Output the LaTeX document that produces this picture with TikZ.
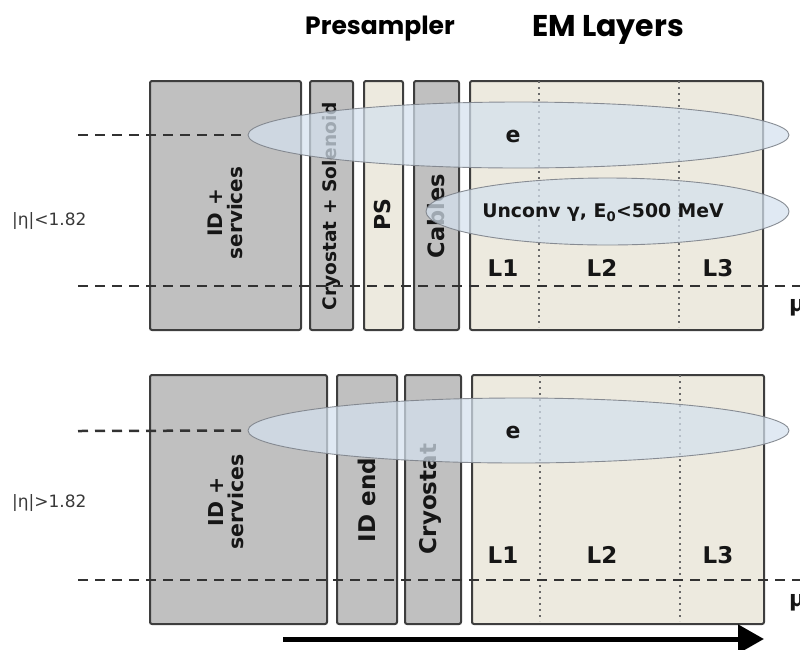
\documentclass[tikz,border=0pt]{standalone}
\usepackage{fontspec}
\setmainfont{DejaVu Sans}
\newfontfamily\headfont{Poppins}
\usetikzlibrary{shapes.geometric,arrows.meta}

\definecolor{boxgrey}{RGB}{192,192,192}
\definecolor{cream}{RGB}{237,234,223}
\definecolor{edgegrey}{RGB}{62,62,62}
\definecolor{showerblue}{RGB}{212,225,238}
\definecolor{showeredge}{RGB}{125,130,138}
\definecolor{dashgrey}{RGB}{50,50,50}
\definecolor{dotgrey}{RGB}{105,105,105}
\definecolor{inkblack}{RGB}{22,22,22}

\newcommand{\lblsize}[1]{\bfseries\fontsize{#1}{#1}\selectfont}

\begin{document}
\begin{tikzpicture}[x=1pt,y=-1pt,
  block/.style={draw=edgegrey, line width=2pt, rounded corners=2pt,
                inner sep=0pt, anchor=north west, minimum height=249pt},
  greyblock/.style={block, fill=boxgrey},
  layerblock/.style={block, fill=cream},
  vlabel/.style={rotate=90, text=inkblack, align=center, inner sep=0pt},
  hlabel/.style={font=\lblsize{23}, text=inkblack, inner sep=0pt},
  shower/.style={ellipse, draw=showeredge, line width=0.9pt, fill=showerblue,
                 fill opacity=0.72, draw opacity=0.9, inner sep=0pt},
  dashline/.style={draw=dashgrey, line width=2.5pt, dash pattern=on 10pt off 7pt},
  dotline/.style={draw=dotgrey, line width=1.6pt, dash pattern=on 1.6pt off 4.4pt},
  etalabel/.style={anchor=west, font=\fontsize{17}{19}\selectfont, text=inkblack!85, inner sep=0pt},
  muon/.style={anchor=west, font=\lblsize{22}, text=inkblack, inner sep=0pt},
  header/.style={anchor=base, text=black, inner sep=0pt}
]
\useasboundingbox (0,0) rectangle (800,649);

% column headings
\node[header, font=\headfont\bfseries\fontsize{25}{28}\selectfont] (hPre) at (380,34) {Presampler};
\node[header, font=\headfont\bfseries\fontsize{30}{32}\selectfont] (hEM) at (608,36) {EM Layers};

% ---------------- barrel, |eta| < 1.82 ----------------
\node[greyblock, minimum width=151pt] (tID)  at (149,80) {};
\node[greyblock, minimum width=43pt]  (tCry) at (309,80) {};
\node[layerblock, minimum width=39pt] (tPS)  at (363,80) {};
\node[greyblock, minimum width=45pt]  (tCab) at (413,80) {};
\node[layerblock, minimum width=293pt] (tEM) at (469,80) {};

\draw[dotline] (539,81) -- (539,327);
\draw[dotline] (679,81) -- (679,327);

\node[vlabel, font=\lblsize{20}] (tIDt)  at (225,213) {ID +\\services};
\node[vlabel, font=\lblsize{18.6}] (tCryt) at (331,206) {Cryostat + Solenoid};
\node[vlabel, font=\lblsize{22}] (tPSt)  at (382,215) {PS};
\node[vlabel, font=\lblsize{22.5}] (tCabt) at (436,216) {Cables};

\node[shower, minimum width=541pt, minimum height=66pt] (tE) at (518.5,135) {};
\node[shower, minimum width=363pt, minimum height=67pt] (tG) at (607.5,211.5) {};

\coordinate (tDashA) at (78,135);
\draw[dashline] (tDashA) -- (tE.west);
\coordinate (tDashB) at (78,286);
\coordinate (tDashC) at (800,286);
\draw[dashline] (tDashB) -- (tDashC);

\node[hlabel, font=\lblsize{22}] (tEt) at (513,136) {e};
\node[font=\lblsize{18.8}, text=inkblack, inner sep=0pt]
  (tGt) at (603,213) {Unconv γ, E\textsubscript{0}<500 MeV};
\node[hlabel] (tL1) at (503,268) {L1};
\node[hlabel] (tL2) at (602,268) {L2};
\node[hlabel] (tL3) at (718,268) {L3};

\node[etalabel] (tEta) at (12,221) {|η|<1.82};
\node[muon] (tMu) at (789,308) {μ};

% ---------------- end-cap, |eta| > 1.82 ----------------
\node[greyblock, minimum width=177pt] (bID)  at (149,374) {};
\node[greyblock, minimum width=60pt]  (bIDe) at (336,374) {};
\node[greyblock, minimum width=56pt]  (bCry) at (404,374) {};
\node[layerblock, minimum width=292pt] (bEM) at (471,374) {};

\draw[dotline] (540,375) -- (540,621);
\draw[dotline] (680,375) -- (680,621);

\node[vlabel, font=\lblsize{20.5}] (bIDt)  at (226,502) {ID +\\services};
\node[vlabel, font=\lblsize{23}] (bIDet) at (367,500) {ID end};
\node[vlabel, font=\lblsize{23}] (bCryt) at (430,499) {Cryostat};

\node[shower, minimum width=541pt, minimum height=65pt] (bE) at (518.5,430.5) {};

\coordinate (bDashA) at (78,431);
\draw[dashline] (bDashA) -- (bE.west);
\coordinate (bDashB) at (78,580);
\coordinate (bDashC) at (800,580);
\draw[dashline] (bDashB) -- (bDashC);

\node[hlabel, font=\lblsize{22}] (bEt) at (513,432) {e};
\node[hlabel] (bL1) at (503,555) {L1};
\node[hlabel] (bL2) at (602,555) {L2};
\node[hlabel] (bL3) at (718,555) {L3};

\node[etalabel] (bEta) at (12,503) {|η|>1.82};
\node[muon] (bMu) at (789,603) {μ};

% depth axis
\coordinate (axS) at (283,639);
\coordinate (axE) at (764,639);
\draw[line width=5pt, -{Triangle[length=26pt,width=28pt]}] (axS) -- (axE);
\end{tikzpicture}
\end{document}
